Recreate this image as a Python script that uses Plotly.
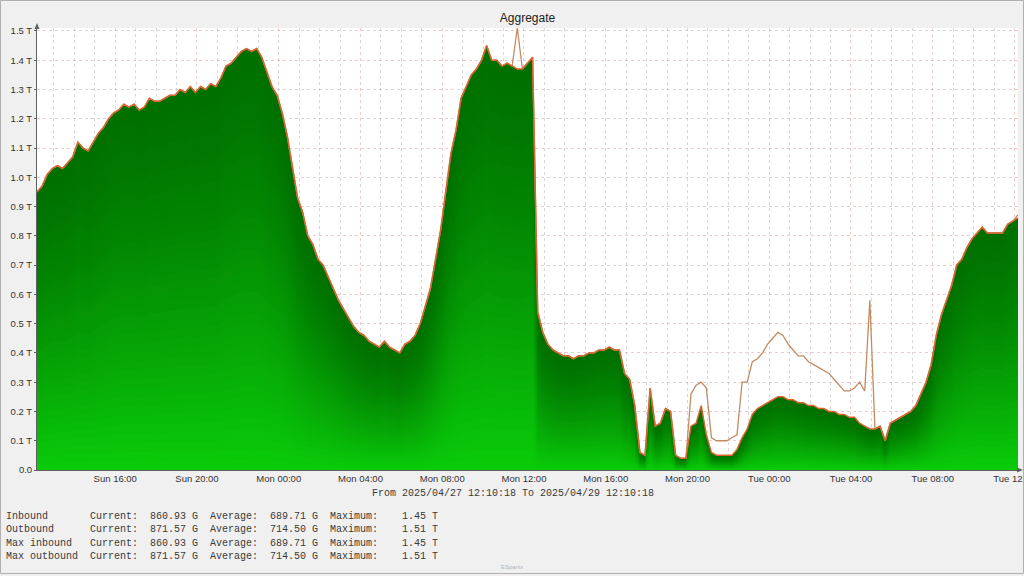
import plotly.graph_objects as go
import pandas as pd

# ---------------- data ----------------
title_text = "Aggregate"
start_time = "2025-04-27 12:10:18"
end_time = "2025-04-29 12:10:18"
sample_step = "15min"

# Inbound traffic (T), one value per 15 minutes
inbound_T = [
    0.95, 0.97, 1.01, 1.03, 1.04, 1.03, 1.05, 1.07, 1.12, 1.10,
    1.09, 1.12, 1.15, 1.17, 1.20, 1.22, 1.23, 1.25, 1.24, 1.25,
    1.23, 1.24, 1.27, 1.26, 1.26, 1.27, 1.28, 1.28, 1.30, 1.29,
    1.31, 1.29, 1.31, 1.30, 1.32, 1.31, 1.34, 1.38, 1.39, 1.41,
    1.43, 1.44, 1.43, 1.44, 1.41, 1.36, 1.31, 1.28, 1.22, 1.14,
    1.03, 0.93, 0.88, 0.80, 0.77, 0.72, 0.70, 0.66, 0.62, 0.58,
    0.55, 0.52, 0.49, 0.47, 0.46, 0.44, 0.43, 0.42, 0.44, 0.42,
    0.41, 0.40, 0.43, 0.44, 0.46, 0.50, 0.56, 0.62, 0.72, 0.82,
    0.95, 1.08, 1.16, 1.27, 1.31, 1.35, 1.37, 1.40, 1.45, 1.40,
    1.40, 1.38, 1.39, 1.38, 1.37, 1.37, 1.39, 1.41, 0.54, 0.47,
    0.43, 0.41, 0.40, 0.39, 0.39, 0.38, 0.39, 0.39, 0.40, 0.40,
    0.41, 0.41, 0.42, 0.41, 0.41, 0.33, 0.31, 0.22, 0.06, 0.05,
    0.28, 0.15, 0.16, 0.21, 0.20, 0.05, 0.04, 0.04, 0.15, 0.16,
    0.22, 0.12, 0.06, 0.05, 0.05, 0.05, 0.05, 0.07, 0.11, 0.14,
    0.19, 0.21, 0.22, 0.23, 0.24, 0.25, 0.25, 0.24, 0.24, 0.23,
    0.23, 0.22, 0.22, 0.21, 0.21, 0.20, 0.20, 0.19, 0.19, 0.18,
    0.18, 0.16, 0.15, 0.14, 0.14, 0.15, 0.10, 0.16, 0.17, 0.18,
    0.19, 0.20, 0.22, 0.26, 0.30, 0.36, 0.46, 0.53, 0.58, 0.63,
    0.70, 0.72, 0.76, 0.79, 0.81, 0.83, 0.81, 0.81, 0.81, 0.81,
    0.84, 0.85, 0.861,
]

# Outbound traffic (T)
outbound_T = [
    0.95, 0.97, 1.01, 1.03, 1.04, 1.03, 1.05, 1.07, 1.12, 1.10,
    1.09, 1.12, 1.15, 1.17, 1.20, 1.22, 1.23, 1.25, 1.24, 1.25,
    1.23, 1.24, 1.27, 1.26, 1.26, 1.27, 1.28, 1.28, 1.30, 1.29,
    1.31, 1.29, 1.31, 1.30, 1.32, 1.31, 1.34, 1.38, 1.39, 1.41,
    1.43, 1.44, 1.43, 1.44, 1.41, 1.36, 1.31, 1.28, 1.22, 1.14,
    1.03, 0.93, 0.88, 0.80, 0.77, 0.72, 0.70, 0.66, 0.62, 0.58,
    0.55, 0.52, 0.49, 0.47, 0.46, 0.44, 0.43, 0.42, 0.44, 0.42,
    0.41, 0.40, 0.43, 0.44, 0.46, 0.50, 0.56, 0.62, 0.72, 0.82,
    0.95, 1.08, 1.16, 1.27, 1.31, 1.35, 1.37, 1.40, 1.45, 1.40,
    1.40, 1.38, 1.39, 1.38, 1.51, 1.37, 1.39, 1.41, 0.54, 0.47,
    0.43, 0.41, 0.40, 0.39, 0.39, 0.38, 0.39, 0.39, 0.40, 0.40,
    0.41, 0.41, 0.42, 0.41, 0.41, 0.33, 0.31, 0.22, 0.06, 0.05,
    0.28, 0.15, 0.16, 0.21, 0.20, 0.05, 0.04, 0.04, 0.26, 0.29,
    0.30, 0.28, 0.11, 0.10, 0.10, 0.10, 0.11, 0.12, 0.30, 0.30,
    0.37, 0.38, 0.40, 0.43, 0.45, 0.47, 0.46, 0.43, 0.41, 0.39,
    0.39, 0.37, 0.36, 0.35, 0.34, 0.33, 0.31, 0.29, 0.27, 0.27,
    0.28, 0.30, 0.27, 0.58, 0.14, 0.15, 0.10, 0.16, 0.17, 0.18,
    0.19, 0.20, 0.22, 0.26, 0.30, 0.36, 0.46, 0.53, 0.58, 0.63,
    0.70, 0.72, 0.76, 0.79, 0.81, 0.83, 0.81, 0.81, 0.81, 0.81,
    0.84, 0.85, 0.872,
]

y_tick_values = [0.0, 0.1, 0.2, 0.3, 0.4, 0.5, 0.6, 0.7, 0.8, 0.9,
                 1.0, 1.1, 1.2, 1.3, 1.4, 1.5]
y_tick_labels = ["0.0", "0.1 T", "0.2 T", "0.3 T", "0.4 T", "0.5 T", "0.6 T",
                 "0.7 T", "0.8 T", "0.9 T", "1.0 T", "1.1 T", "1.2 T", "1.3 T",
                 "1.4 T", "1.5 T"]

legend_names = ["Inbound", "Outbound", "Max inbound", "Max outbound"]
legend_current = ["860.93 G", "871.57 G", "860.93 G", "871.57 G"]
legend_average = ["689.71 G", "714.50 G", "689.71 G", "714.50 G"]
legend_maximum = ["1.45 T", "1.51 T", "1.45 T", "1.51 T"]

range_text = "From 2025/04/27 12:10:18 To 2025/04/29 12:10:18"
footer_text = "ESpanix"

# ---------------- layout geometry ----------------
FIG_W, FIG_H = 1024, 576
M_L, M_R, M_T, M_B = 37, 6, 28, 106
PW = FIG_W - M_L - M_R
PH = FIG_H - M_T - M_B
PLOT_BOTTOM = FIG_H - M_B


def px_x(px):
    return (px - M_L) / PW


def px_y(py):
    return (PLOT_BOTTOM - py) / PH


assert len(inbound_T) == len(outbound_T)
times = pd.date_range(start_time, periods=len(inbound_T), freq=sample_step)

fig = go.Figure()

# per-column vertical gradient for the inbound area: stacked scaled fills
TOP = (0, 112, 0)
BOT = (10, 204, 10)
N_BANDS = 40
for k in range(N_BANDS, 0, -1):
    frac = k / N_BANDS
    pos = (k - 0.5) / N_BANDS          # position within column (1=top)
    t = (1 - pos) ** 1.4               # 0 at top -> 1 at bottom
    c = tuple(round(TOP[j] + (BOT[j] - TOP[j]) * t) for j in range(3))
    fig.add_trace(go.Scatter(
        x=times, y=[v * frac for v in inbound_T],
        mode="lines", line=dict(width=0, color="rgba(0,0,0,0)"),
        fill="tozeroy", fillcolor="rgb(%d,%d,%d)" % c,
        hoverinfo="skip", showlegend=False,
    ))

# outbound line
fig.add_trace(go.Scatter(
    x=times, y=outbound_T, mode="lines",
    line=dict(color="#c48a60", width=1.3),
    hoverinfo="skip", showlegend=False,
))
# inbound edge line
fig.add_trace(go.Scatter(
    x=times, y=inbound_T, mode="lines",
    line=dict(color="#d8662e", width=1.5),
    hoverinfo="skip", showlegend=False,
))

axis_font = dict(family="Liberation Sans, Arial, sans-serif", size=9.5, color="#333333")

fig.update_layout(
    width=FIG_W, height=FIG_H,
    autosize=False,
    margin=dict(l=M_L, r=M_R, t=M_T, b=M_B, pad=0, autoexpand=False),
    paper_bgcolor="#f0f0f0",
    plot_bgcolor="#ffffff",
    showlegend=False,
    title=dict(text=title_text, x=0.5, xref="paper", xanchor="center",
               y=1 - 18 / FIG_H, yref="container", yanchor="middle",
               font=dict(family="Liberation Sans, Arial, sans-serif", size=12, color="#222222")),
    xaxis=dict(
        type="date",
        range=[start_time, end_time],
        tickformat="%a %H:%M",
        tick0="2025-04-27 16:00:00",
        dtick=4 * 3600 * 1000,
        ticks="",
        ticklabeloverflow="allow",
        automargin=False,
        tickfont=axis_font,
        showline=True, linecolor="#606060", linewidth=1,
        showgrid=True, gridcolor="rgba(225,160,160,0.55)", griddash="dot", gridwidth=1,
        minor=dict(tick0="2025-04-27 13:00:00", dtick=3600 * 1000, showgrid=True,
                   gridcolor="rgba(200,200,200,0.7)", griddash="dot", gridwidth=1),
        zeroline=False,
    ),
    yaxis=dict(
        range=[0, PH / 292.7],
        tickvals=y_tick_values,
        ticktext=y_tick_labels,
        tickfont=axis_font,
        automargin=False,
        ticks="outside", ticklen=2, tickcolor="#606060",
        showline=True, linecolor="#606060", linewidth=1,
        showgrid=True, gridcolor="rgba(225,160,160,0.55)", griddash="dot", gridwidth=1,
        zeroline=False,
    ),
)

# axis arrows
fig.add_shape(type="path", xref="paper", yref="paper", layer="above",
              path="M %f,%f L %f,%f L %f,%f Z" % (px_x(37), px_y(23), px_x(34.5), px_y(29),
                                                 px_x(39.5), px_y(29)),
              fillcolor="#606060", line=dict(width=0))
fig.add_shape(type="path", xref="paper", yref="paper", layer="above",
              path="M %f,%f L %f,%f L %f,%f Z" % (px_x(1023), px_y(470), px_x(1017), px_y(467.5),
                                                 px_x(1017), px_y(472.5)),
              fillcolor="#606060", line=dict(width=0))

# frame
fig.add_shape(type="rect", xref="paper", yref="paper", layer="above",
              x0=px_x(0.5), x1=px_x(1023.5), y0=px_y(0.5), y1=px_y(573.5),
              line=dict(color="#b0b0b0", width=1), fillcolor="rgba(0,0,0,0)")

mono = dict(family="Liberation Mono, DejaVu Sans Mono, monospace", size=10, color="#3a3a3a")
NB = "\u00a0"

fig.add_annotation(xref="paper", yref="paper", x=px_x(512.5), y=px_y(493),
                   text=range_text.replace(" ", NB), showarrow=False,
                   xanchor="center", yanchor="middle", font=mono)

row_y = [516, 529.5, 543, 556.5]
for name, cur, avg, mx, ry in zip(legend_names, legend_current, legend_average,
                                  legend_maximum, row_y):
    line = f"{name:<14}Current:{cur:>10}  Average:{avg:>10}  Maximum:{mx:>10}"
    fig.add_annotation(xref="paper", yref="paper", x=px_x(4), y=px_y(ry),
                       text=line.replace(" ", NB), showarrow=False,
                       xanchor="left", yanchor="middle", font=mono)

fig.add_annotation(xref="paper", yref="paper", x=px_x(512), y=px_y(567),
                   text=footer_text, showarrow=False, xanchor="center", yanchor="middle",
                   font=dict(family="Liberation Sans, Arial, sans-serif", size=6, color="#b0b0b0"))

fig.write_html("out.html", config={"displayModeBar": False},
               post_script="document.body.style.margin='0';")
